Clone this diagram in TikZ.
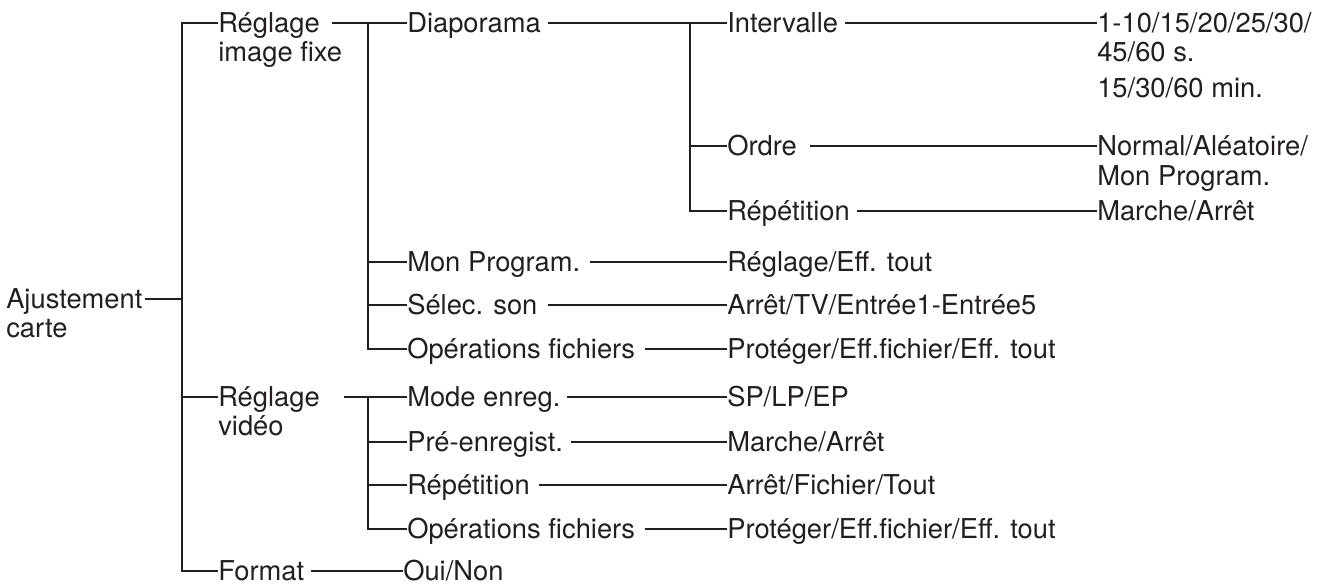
\documentclass[tikz,border=0pt]{standalone}
\usepackage{fontspec}
\setmainfont{TeX Gyre Heros}
\definecolor{ink}{HTML}{231F20}
\tikzset{
  entry/.style={anchor=west, inner sep=0pt, text height=14.7pt, text depth=0pt,
    font=\fontsize{20.5}{24}\selectfont, text=ink},
  link/.style={line width=1.8pt, draw=ink, shorten <=#1},
  link/.default=0pt
}

\begin{document}
\begin{tikzpicture}[x=0.75pt,y=-0.75pt]
\useasboundingbox (0,0) rectangle (1338,585);

\node[entry] (aj) at (6,299) {Ajustement};
\node[entry] (ajb) at (6,328) {carte};

\node[entry] (rif) at (218,23) {Réglage};
\node[entry] (rifb) at (218,52) {image fixe};
\node[entry] (rv) at (218,397) {Réglage};
\node[entry] (rvb) at (218,426) {vidéo};
\node[entry] (fmt) at (218,571) {Format};

\node[entry] (dia) at (407,23) {Diaporama};
\node[entry] (mp) at (407,262) {Mon Program.};
\node[entry] (ss) at (407,305) {Sélec. son};
\node[entry] (opf1) at (407,349) {Opérations fichiers};
\node[entry] (me) at (407,397) {Mode enreg.};
\node[entry] (pre) at (407,442) {Pré-enregist.};
\node[entry] (rep2) at (407,485) {Répétition};
\node[entry] (opf2) at (407,529) {Opérations fichiers};
\node[entry] (oui) at (403,571) {Oui/Non};

\node[entry] (int) at (727,23) {Intervalle};
\node[entry] (ord) at (727,146) {Ordre};
\node[entry] (rep1) at (727,211) {Répétition};
\node[entry] (mpv) at (727,262) {Réglage/Eff. tout};
\node[entry] (ssv) at (727,305) {Arrêt/TV/Entrée1-Entrée5};
\node[entry] (opv1) at (727,349) {Protéger/Eff.fichier/Eff. tout};
\node[entry] (mev) at (727,397) {SP/LP/EP};
\node[entry] (prev) at (727,442) {Marche/Arrêt};
\node[entry] (repv2) at (727,485) {Arrêt/Fichier/Tout};
\node[entry] (opv2) at (727,529) {Protéger/Eff.fichier/Eff. tout};

\node[entry] (intv) at (1097,23) {1-10/15/20/25/30/};
\node[entry] (intvb) at (1097,52) {45/60 s.};
\node[entry] (intvc) at (1097,88) {15/30/60 min.};
\node[entry] (ordv) at (1097,146) {Normal/Aléatoire/};
\node[entry] (ordvb) at (1097,176) {Mon Program.};
\node[entry] (repv1) at (1097,211) {Marche/Arrêt};

\coordinate (j0) at (182,299);
\coordinate (j1) at (368,23);
\coordinate (j2) at (690,23);
\coordinate (j3) at (368,397);

\draw[link=2pt] (aj.east) -- (j0);
\draw[link] (rif.west) -| (j0) |- (fmt.west);
\draw[link] (j0 |- rv.west) -- (rv.west);

\draw[link=9pt] (rif.east) -- (dia.west);
\draw[link] (j1) |- (opf1.west);
\draw[link] (j1 |- mp.west) -- (mp.west);
\draw[link] (j1 |- ss.west) -- (ss.west);

\draw[link=18pt] (rv.east) -- (me.west);
\draw[link] (j3) |- (opf2.west);
\draw[link] (j3 |- pre.west) -- (pre.west);
\draw[link] (j3 |- rep2.west) -- (rep2.west);

\draw[link=5pt] (fmt.east) -- (oui.west);

\draw[link=5pt] (dia.east) -- (int.west);
\draw[link] (j2) |- (rep1.west);
\draw[link] (j2 |- ord.west) -- (ord.west);

\draw[link=5pt] (int.east) -- (intv.west);
\draw[link=10pt] (ord.east) -- (ordv.west);
\draw[link=5pt] (rep1.east) -- (repv1.west);

\draw[link=7pt] (mp.east) -- (mpv.west);
\draw[link=8pt] (ss.east) -- (ssv.west);
\draw[link=7pt] (opf1.east) -- (opv1.west);
\draw[link=5pt] (me.east) -- (mev.west);
\draw[link=6pt] (pre.east) -- (prev.west);
\draw[link=7pt] (rep2.east) -- (repv2.west);
\draw[link=7pt] (opf2.east) -- (opv2.west);
\end{tikzpicture}
\end{document}
